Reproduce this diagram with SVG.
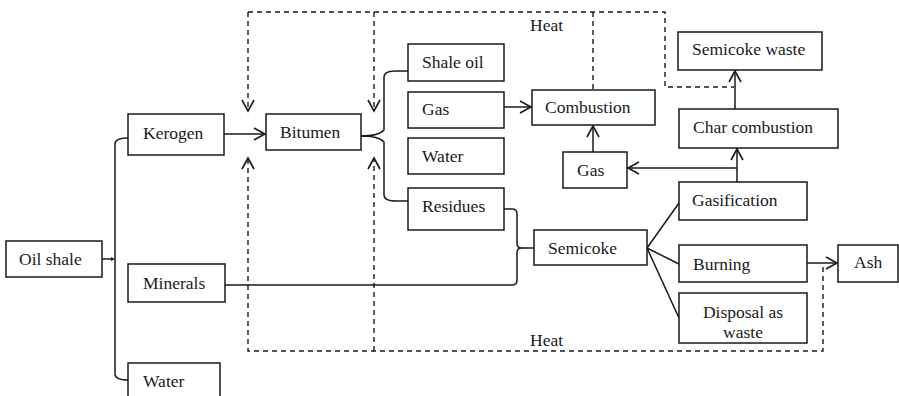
<svg xmlns="http://www.w3.org/2000/svg" width="899" height="396" viewBox="0 0 899 396">
<style>
  .box { fill: #ffffff; stroke: #1a1a1a; stroke-width: 1.5; }
  .lbl { font-family: "Liberation Serif", "Times New Roman", serif; font-size: 17.5px; fill: #1a1a1a; }
  .ln { fill: none; stroke: #1a1a1a; stroke-width: 1.5; }
  .dash { fill: none; stroke: #1a1a1a; stroke-width: 1.4; stroke-dasharray: 5 4; }
</style>
<defs>
  <marker id="arr" markerUnits="userSpaceOnUse" markerWidth="14" markerHeight="16" refX="12" refY="7" orient="auto">
    <path d="M1,1 L12,7 L1,13" fill="none" stroke="#1a1a1a" stroke-width="1.6" stroke-dasharray="none"/>
  </marker>
</defs>
<rect width="899" height="396" fill="#ffffff"/>

<g id="connectors">
  <!-- oil shale brace -->
  <path class="ln" d="M102,259 L113,259 M128,138 Q115,138 115,144 L115,374 Q115,380 128,380"/>
  <path d="M111,257 L115,259 L111,261 Z" fill="#1a1a1a"/>
  <!-- kerogen to bitumen -->
  <path class="ln" d="M224,134 L265,134" marker-end="url(#arr)"/>
  <!-- bitumen brace -->
  <path class="ln" d="M361,136 Q379,136 384,130 L384,77 Q384,71 396,71 L408,71"/>
  <path class="ln" d="M361,136 Q379,136 384,142 L384,195 Q384,201 396,201 L408,201"/>
  <!-- gas to combustion -->
  <path class="ln" d="M504,107 L531,107" marker-end="url(#arr)"/>
  <!-- gas2 to combustion -->
  <path class="ln" d="M593,152 L593,126" marker-end="url(#arr)"/>
  <!-- gasification to char combustion, branch to gas -->
  <path class="ln" d="M737,182 L737,149" marker-end="url(#arr)"/>
  <path class="ln" d="M737,168 L628,168" marker-end="url(#arr)"/>
  <!-- char combustion to semicoke waste -->
  <path class="ln" d="M735,109 L735,71" marker-end="url(#arr)"/>
  <!-- residues / minerals brace to semicoke -->
  <path class="ln" d="M504,209 L512,209 Q517,209 517,214 L517,243 Q517,248 521,248 L534,248"/>
  <path class="ln" d="M225,285 L512,285 Q517,285 517,280 L517,253 Q517,248 521,248"/>
  <!-- semicoke fan -->
  <path class="ln" d="M647,248 L679,203 M647,248 L679,264 M647,248 L679,318"/>
  <!-- burning to ash -->
  <path class="ln" d="M807,263 L837,263" marker-end="url(#arr)"/>
  <!-- dashed heat loops -->
  <path class="dash" d="M248,12 L248,111" marker-end="url(#arr)"/>
  <path class="dash" d="M374,12 L374,111" marker-end="url(#arr)"/>
  <path class="dash" d="M248,12 L665,12 L665,87 L734,87"/>
  <path class="dash" d="M593,12 L593,90"/>
  <path class="dash" d="M823,267 L823,351 L248,351 L248,158" marker-end="url(#arr)"/>
  <path class="dash" d="M374,351 L374,158" marker-end="url(#arr)"/>
  <text class="lbl" x="530" y="31">Heat</text>
  <text class="lbl" x="530" y="346">Heat</text>
</g>

<g id="oil-shale"><rect class="box" x="6" y="241" width="96" height="36"/><text class="lbl" x="19" y="265">Oil shale</text></g>
<g id="kerogen"><rect class="box" x="128" y="114" width="96" height="41"/><text class="lbl" x="143" y="139">Kerogen</text></g>
<g id="minerals"><rect class="box" x="128" y="264" width="97" height="38"/><text class="lbl" x="143" y="289">Minerals</text></g>
<g id="water-1"><rect class="box" x="128" y="363" width="92" height="40"/><text class="lbl" x="143" y="387">Water</text></g>
<g id="bitumen"><rect class="box" x="266" y="114" width="95" height="36"/><text class="lbl" x="280" y="138">Bitumen</text></g>
<g id="shale-oil"><rect class="box" x="408" y="44" width="96" height="37"/><text class="lbl" x="422" y="68">Shale oil</text></g>
<g id="gas-1"><rect class="box" x="408" y="92" width="96" height="36"/><text class="lbl" x="422" y="115">Gas</text></g>
<g id="water-2"><rect class="box" x="408" y="138" width="96" height="36"/><text class="lbl" x="422" y="162">Water</text></g>
<g id="residues"><rect class="box" x="408" y="188" width="96" height="42"/><text class="lbl" x="422" y="212">Residues</text></g>
<g id="combustion"><rect class="box" x="532" y="90" width="123" height="35"/><text class="lbl" x="545" y="113">Combustion</text></g>
<g id="gas-2"><rect class="box" x="563" y="152" width="64" height="36"/><text class="lbl" x="577" y="176">Gas</text></g>
<g id="semicoke-waste"><rect class="box" x="678" y="32" width="144" height="38"/><text class="lbl" x="692" y="55">Semicoke waste</text></g>
<g id="char-combustion"><rect class="box" x="679" y="109" width="159" height="39"/><text class="lbl" x="693" y="133">Char combustion</text></g>
<g id="gasification"><rect class="box" x="679" y="182" width="128" height="38"/><text class="lbl" x="692" y="206">Gasification</text></g>
<g id="semicoke"><rect class="box" x="534" y="230" width="113" height="35"/><text class="lbl" x="548" y="254">Semicoke</text></g>
<g id="burning"><rect class="box" x="679" y="245" width="128" height="37"/><text class="lbl" x="693" y="270">Burning</text></g>
<g id="disposal"><rect class="box" x="679" y="293" width="128" height="50"/><text class="lbl" x="743" y="318" text-anchor="middle">Disposal as</text><text class="lbl" x="743" y="338" text-anchor="middle">waste</text></g>
<g id="ash"><rect class="box" x="838" y="245" width="60" height="37"/><text class="lbl" x="854" y="268">Ash</text></g>
</svg>
